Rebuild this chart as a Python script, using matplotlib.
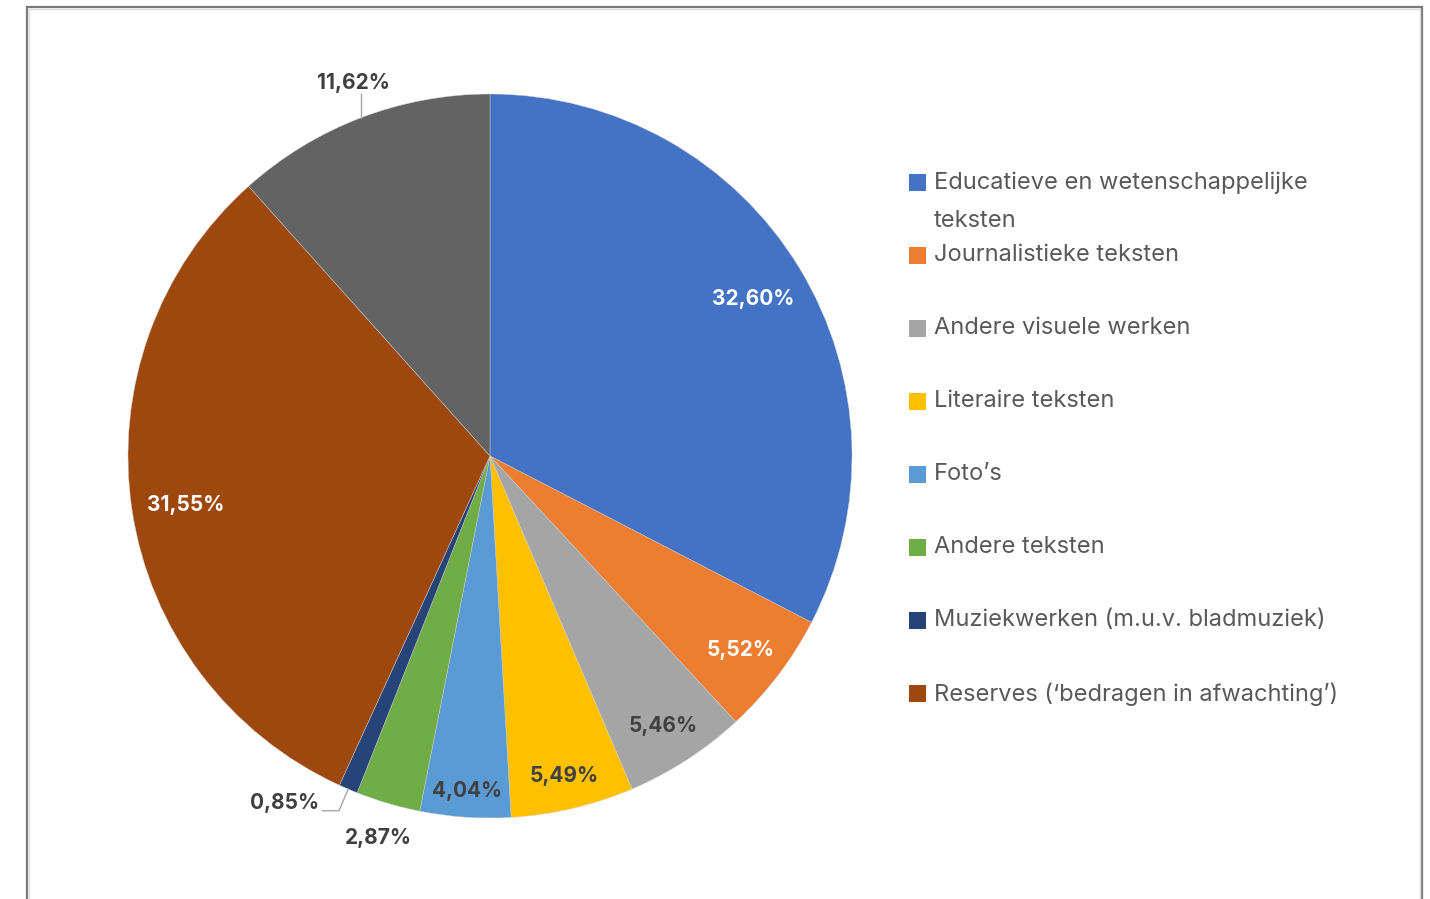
import numpy as np
import matplotlib
matplotlib.use("Agg")
import matplotlib.pyplot as plt
from matplotlib.patches import Rectangle
from matplotlib.lines import Line2D

# ---- data ----
categories = [
    "Educatieve en wetenschappelijke\nteksten",
    "Journalistieke teksten",
    "Andere visuele werken",
    "Literaire teksten",
    "Foto’s",
    "Andere teksten",
    "Muziekwerken (m.u.v. bladmuziek)",
    "Reserves (‘bedragen in afwachting’)",
    "",
]
values = [32.60, 5.52, 5.46, 5.49, 4.04, 2.87, 0.85, 31.55, 11.62]
value_labels = ["32,60%", "5,52%", "5,46%", "5,49%", "4,04%", "2,87%", "0,85%", "31,55%", "11,62%"]
in_legend = [True, True, True, True, True, True, True, True, False]

# ---- style ----
colors = ["#4472C4", "#ED7D31", "#A5A5A5", "#FFC000", "#5B9BD5",
          "#70AD47", "#264478", "#9E480E", "#636363"]
label_colors = ["white", "white", "#404040", "#404040", "#404040",
                "#404040", "#404040", "white", "#404040"]
label_radius = [0.85, 0.87, 0.88, 0.90, 0.92, 1.092, 1.10, 0.85, 1.11]
FONT = ["Inter", "DejaVu Sans"]
DY = -0.008  # small vertical text correction

W, H = 1430, 899
fig = plt.figure(figsize=(W / 100, H / 100), dpi=100)
fig.patch.set_facecolor("white")

# outer frame (extends below the bottom edge)
fig.patches.append(Rectangle((27 / W, -0.05), (1422 - 27) / W, 1 - 7 / H + 0.05,
                             transform=fig.transFigure, fill=False,
                             edgecolor="#7a7a7a", linewidth=1.6, zorder=0))
fig.patches.append(Rectangle((29 / W, -0.05), (1420 - 29) / W, 1 - 9 / H + 0.05,
                             transform=fig.transFigure, fill=False,
                             edgecolor="#dcdcdc", linewidth=1.0, zorder=0))

cx, cy, R = 490, 456, 362
ax = fig.add_axes([(cx - R) / W, (H - cy - R) / H, 2 * R / W, 2 * R / H])

wedges, _ = ax.pie(values, colors=colors, startangle=90, counterclock=False,
                   radius=1.0, wedgeprops=dict(edgecolor="#cfcfcf", linewidth=0.3))
ax.set_aspect("auto")
ax.set_xlim(-1, 1)
ax.set_ylim(-1, 1)
ax.axis("off")

for i, w in enumerate(wedges):
    ang = np.deg2rad((w.theta1 + w.theta2) / 2)
    r = label_radius[i]
    x, y = r * np.cos(ang), r * np.sin(ang)
    ha = "center"
    if value_labels[i] == "11,62%":
        ex, ey = np.cos(ang), np.sin(ang)
        ax.add_line(Line2D([ex, ex], [ey, ey + 0.065], color="#a6a6a6", lw=1, clip_on=False))
        x, y = ex - 0.02, ey + 0.105
    elif value_labels[i] == "0,85%":
        ex, ey = np.cos(ang), np.sin(ang)
        mx, my = 1.065 * ex, 1.065 * ey
        ax.add_line(Line2D([ex, mx, mx - 0.045], [ey, my, my], color="#a6a6a6",
                           lw=1, clip_on=False))
        x, y = mx - 0.055, my + 0.03
        ha = "right"
    ax.text(x, y + DY, value_labels[i], ha=ha, va="center", fontsize=15,
            fontweight="bold", color=label_colors[i], family=FONT, clip_on=False)

# legend (manual, one entry per category)
leg_x, y0, step = 909, 182, 73
n = 0
for i, lab in enumerate(categories):
    if not in_legend[i]:
        continue
    yc = y0 + step * n
    fig.patches.append(Rectangle((leg_x / W, 1 - (yc + 9) / H), 17 / W, 17 / H,
                                 transform=fig.transFigure, facecolor=colors[i],
                                 edgecolor="none"))
    fig.text(934 / W, 1 - (yc - 11) / H, lab, ha="left", va="top", fontsize=17,
             color="#595959", family=FONT, linespacing=1.95)
    n += 1

fig.savefig("out.png", dpi=100, facecolor="white")
